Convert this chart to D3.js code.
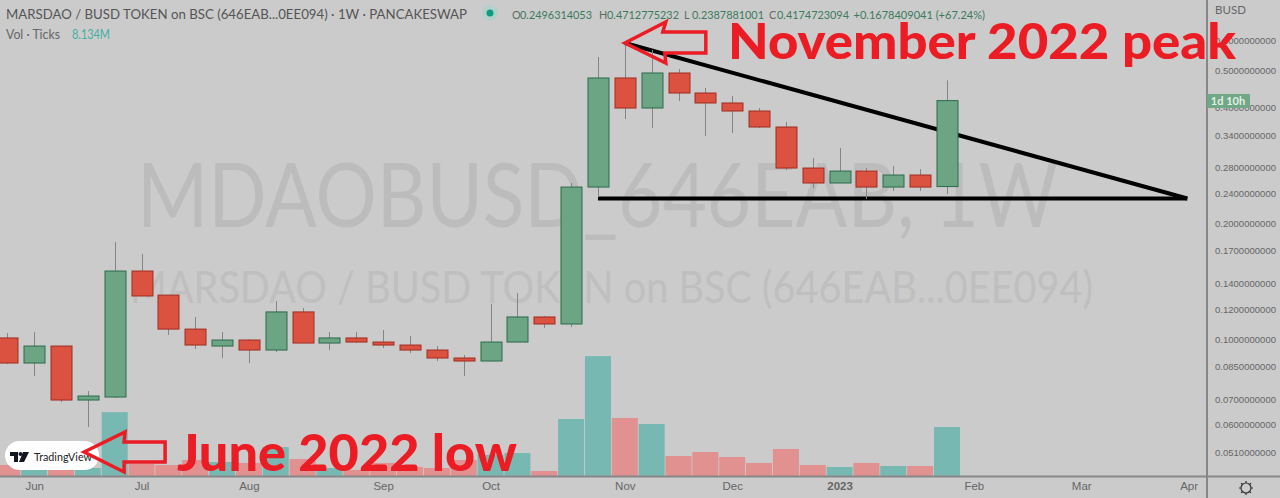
<!DOCTYPE html>
<html><head><meta charset="utf-8">
<script src="https://cdn.jsdelivr.net/npm/d3@7/dist/d3.min.js"></script>
<style>html,body{margin:0;padding:0;background:#cbcbcb;overflow:hidden}svg{display:block}</style>
</head><body><svg id="c" width="1280" height="498"></svg>
<script>
// weekly OHLC in BUSD, volume in millions of ticks
const openV  = [.1009,.08685,.09614,.0696,.07086,.1506,.1304,.1064,.09614,.09966,.09387,.1179,.09788,.1009,.09847,.09672,.09387,.08949,.0879,.09847,.1144,.1097,.2489,.478,.3994,.4925,.4369,.4116,.3923,.3565,.2789,.255,.2739,.2489,.2675,.2496314053];
const closeV = [.08685,.09614,.0696,.07129,.1506,.1297,.1064,.09672,.09966,.09387,.1179,.09788,.1009,.09847,.09672,.09387,.08949,.0879,.09847,.1144,.1097,.2489,.478,.3994,.4925,.4369,.4116,.3923,.3565,.2789,.255,.2739,.2489,.2675,.2489,.4174723094];
const highV  = [.1039,.1045,.09614,.07345,.1792,.1668,.1304,.1144,.1045,.1003,.1259,.1207,.1045,.1045,.1058,.1021,.09614,.09112,.1237,.132,.1151,.255,.5419,.5893,.5651,.5044,.4502,.4292,.3994,.3674,.2961,.3144,.2789,.2823,.2772,.4712775232];
const lowV   = [.0863,.08035,.06877,.05921,.07044,.1297,.1027,.09443,.08949,.08685,.09275,.09788,.09387,.09788,.095,.0922,.0879,.08035,.0879,.09847,.1071,.1077,.2345,.374,.3544,.4165,.3378,.344,.3544,.2756,.2474,.255,.2317,.243,.243,.2387881001];
const volV   = [1.83,1.0,1.0,1.33,10.6,2.0,1.83,2.66,2.32,2.16,4.8,2.82,1.33,1.0,2.16,1.5,1.33,2.66,3.49,3.82,.83,9.46,19.9,9.63,8.63,3.32,3.98,3.15,2.16,4.48,1.83,1.5,2.16,1.66,1.66,8.134];
const priceTicks = [.6,.5,.4,.34,.28,.24,.2,.17,.14,.12,.1,.085,.07,.06,.051];
const timeTickIdx = [1,5,9,14,18,23,27,31,36,40,44];
const timeTickLabels = ["Jun","Jul","Aug","Sep","Oct","Nov","Dec","2023","Feb","Mar","Apr"];
const header = "MARSDAO / BUSD TOKEN on BSC (646EAB...0EE094) · 1W · PANCAKESWAP";
const ohlcLabels = ["O","H","L","C"];
const ohlcValues = ["0.2496314053","0.4712775232","0.2387881001","0.4174723094"];
const ohlcChange = "+0.1678409041 (+67.24%)";
// annotation anchors in data units: [bar index, price]
const topTip = [23, .5893], bottomTip = [2.86, .051];
const flatLine = [[22, .2325],[43.95, .2325]];
const slopeLine = [[23, .5893],[43.95, .2325]];

const W=1280,H=498,paneR=1207,paneB=476;
const FONT='"Lato","Open Sans",sans-serif';
const svg=d3.select("#c").style("font-family",FONT);
const x=d3.scaleLinear().domain([0,35]).range([7.3,947]);
const y=d3.scaleLog().domain([.6,.051]).range([40,452]);
const yV=d3.scaleLinear().domain([0,8.134]).range([paneB,427]);
const UP="#6ba583",UPB="#2c6a4b",DN="#db5240",DNB="#a02c20";
const bars=openV.map((o,i)=>({i,o,c:closeV[i],h:highV[i],l:lowV[i],v:volV[i],up:closeV[i]>=o}));

svg.append("defs").append("clipPath").attr("id","pane").append("rect").attr("width",paneR).attr("height",paneB);
svg.append("rect").attr("width",W).attr("height",H).attr("fill","#cbcbcb");

// watermarks
svg.append("text").attr("x",137).attr("y",227).attr("font-size",89).attr("fill","#bcbcbc")
  .attr("textLength",921).attr("lengthAdjust","spacingAndGlyphs").text("MDAOBUSD_646EAB, 1W");
svg.append("text").attr("x",130).attr("y",303).attr("font-size",45).attr("fill","#bfbfbf")
  .attr("textLength",963).attr("lengthAdjust","spacingAndGlyphs").text("MARSDAO / BUSD TOKEN on BSC (646EAB...0EE094)");

const pane=svg.append("g").attr("clip-path","url(#pane)");
// volume
pane.selectAll("rect.vol").data(bars).join("rect").attr("class","vol")
  .attr("x",d=>x(d.i)-13).attr("width",26).attr("y",d=>yV(d.v)).attr("height",d=>paneB-yV(d.v))
  .attr("fill",d=>d.up?"#78b8b2":"#e09190");
// trend lines under the candles
const ln=d3.line().x(d=>x(d[0])).y(d=>y(d[1]));
pane.append("path").attr("d",ln(flatLine)).attr("stroke","#000").attr("stroke-width",4).attr("fill","none");
pane.append("path").attr("d",ln(slopeLine)).attr("stroke","#000").attr("stroke-width",4).attr("fill","none");
// candles
pane.selectAll("line.w").data(bars).join("line").attr("class","w")
  .attr("x1",d=>Math.round(x(d.i))+.5).attr("x2",d=>Math.round(x(d.i))+.5)
  .attr("y1",d=>y(d.h)).attr("y2",d=>y(d.l)).attr("stroke","#858585").attr("stroke-width",1);
pane.selectAll("rect.b").data(bars).join("rect").attr("class","b")
  .attr("x",d=>Math.round(x(d.i))-10).attr("width",21)
  .attr("y",d=>y(Math.max(d.o,d.c))).attr("height",d=>Math.max(1,y(Math.min(d.o,d.c))-y(Math.max(d.o,d.c))))
  .attr("fill",d=>d.up?UP:DN).attr("stroke",d=>d.up?UPB:DNB).attr("stroke-width",1);

// axes
const yAxis=d3.axisRight(y).tickValues(priceTicks).tickSize(0).tickPadding(8).tickFormat(d3.format(".10f"));
const gy=svg.append("g").attr("transform",`translate(${paneR},0)`).call(yAxis);
gy.select(".domain").remove();
gy.selectAll("text").attr("font-size",9.8).attr("fill","#666").attr("textLength",61).attr("lengthAdjust","spacingAndGlyphs");
const xAxis=d3.axisBottom(x).tickValues(timeTickIdx).tickSize(0).tickPadding(6).tickFormat((d,i)=>timeTickLabels[i]);
const gx=svg.append("g").attr("transform",`translate(0,${paneB})`).call(xAxis);
gx.select(".domain").remove();
gx.selectAll("text").attr("font-size",11.5).attr("fill","#666").attr("font-weight",(d,i)=>timeTickLabels[i]==="2023"?700:400);
svg.append("line").attr("x1",0).attr("x2",W).attr("y1",paneB+.5).attr("y2",paneB+.5).attr("stroke","#878787").attr("stroke-width",2);
svg.append("line").attr("x1",paneR).attr("x2",paneR).attr("y1",0).attr("y2",H).attr("stroke","#878787").attr("stroke-width",2);
svg.append("text").attr("x",1215).attr("y",14).attr("font-size",11.5).attr("fill","#666").text("BUSD");

// countdown tag
svg.append("rect").attr("x",paneR).attr("y",94).attr("width",43).attr("height",14).attr("rx",1).attr("fill","#6fa884");
svg.append("text").attr("x",1228).attr("y",105).attr("text-anchor","middle").attr("font-size",11).attr("font-weight",700).attr("fill","#e4eee8").text("1d 10h");

// settings gear
const gear=svg.append("g").attr("transform","translate(1246,488)").attr("stroke","#333").attr("fill","none");
gear.append("circle").attr("r",5).attr("stroke-width",1.2);
d3.range(8).forEach(k=>{const a=k*Math.PI/4;gear.append("line").attr("x1",5*Math.cos(a)).attr("y1",5*Math.sin(a)).attr("x2",7*Math.cos(a)).attr("y2",7*Math.sin(a)).attr("stroke-width",1.2);});

// header
svg.append("text").attr("x",6).attr("y",19).attr("font-size",14).attr("fill","#555")
  .attr("textLength",461).attr("lengthAdjust","spacingAndGlyphs").text(header);
svg.append("circle").attr("cx",490).attr("cy",13).attr("r",8).attr("fill","#b4d0cb");
svg.append("circle").attr("cx",490).attr("cy",13).attr("r",3.5).attr("fill","#0b9c84");
const ohlcStart=[512,599,684,769];
ohlcLabels.forEach((l,i)=>{
  svg.append("text").attr("x",ohlcStart[i]).attr("y",19).attr("font-size",10.8).attr("fill","#5d6b64").text(l);
  svg.append("text").attr("x",ohlcStart[i]+8).attr("y",19).attr("font-size",10.8).attr("fill","#3c7a5c")
    .attr("textLength",72).attr("lengthAdjust","spacingAndGlyphs").text(ohlcValues[i]);
});
svg.append("text").attr("x",853.5).attr("y",19).attr("font-size",10.8).attr("fill","#3c7a5c")
  .attr("textLength",131.5).attr("lengthAdjust","spacingAndGlyphs").text(ohlcChange);
svg.append("text").attr("x",6).attr("y",39).attr("font-size",12.5).attr("fill","#666").attr("textLength",54).attr("lengthAdjust","spacingAndGlyphs").text("Vol · Ticks");
svg.append("text").attr("x",72).attr("y",39).attr("font-size",12.5).attr("fill","#3fb0a4").attr("textLength",38).attr("lengthAdjust","spacingAndGlyphs").text("8.134M");

// TradingView badge
svg.append("rect").attr("x",5).attr("y",441).attr("width",94).attr("height",29).attr("rx",14.5).attr("fill","#fff");
const tv=svg.append("g").attr("transform","translate(10,452)").attr("fill","#131722");
tv.append("path").attr("d","M0 0H8V10H4V4H0Z M13 0H19L14 10H9Z");
tv.append("circle").attr("cx",10.5).attr("cy",2).attr("r",2);
svg.append("text").attr("x",34).attr("y",461).attr("font-size",11.5).attr("fill","#222").attr("textLength",58).attr("lengthAdjust","spacingAndGlyphs").text("TradingView");

// red annotations
const arrow=(tx,ty,pts)=>svg.append("path").attr("d","M"+pts.map(p=>[tx+p[0],ty+p[1]].join(",")).join("L")+"Z")
  .attr("fill","none").attr("stroke","#ec1c24").attr("stroke-width",3.5).attr("stroke-linejoin","miter");
arrow(x(topTip[0]),y(topTip[1]),[[0,0],[41,-21],[38,-11],[81,-11],[81,10],[40,10],[41,20]]);
arrow(x(bottomTip[0]),y(bottomTip[1]),[[0,0],[41,-20],[40,-10],[81,-10],[81,10],[40,10],[40,20]]);
svg.append("text").attr("x",728).attr("y",59).attr("font-size",50).attr("font-weight",900).attr("fill","#ec1c24")
  .attr("textLength",508).attr("lengthAdjust","spacingAndGlyphs").text("November 2022 peak");
svg.append("text").attr("x",177).attr("y",471).attr("font-size",52).attr("font-weight",900).attr("fill","#ec1c24")
  .attr("textLength",340).attr("lengthAdjust","spacingAndGlyphs").text("June 2022 low");
</script>
</body></html>
